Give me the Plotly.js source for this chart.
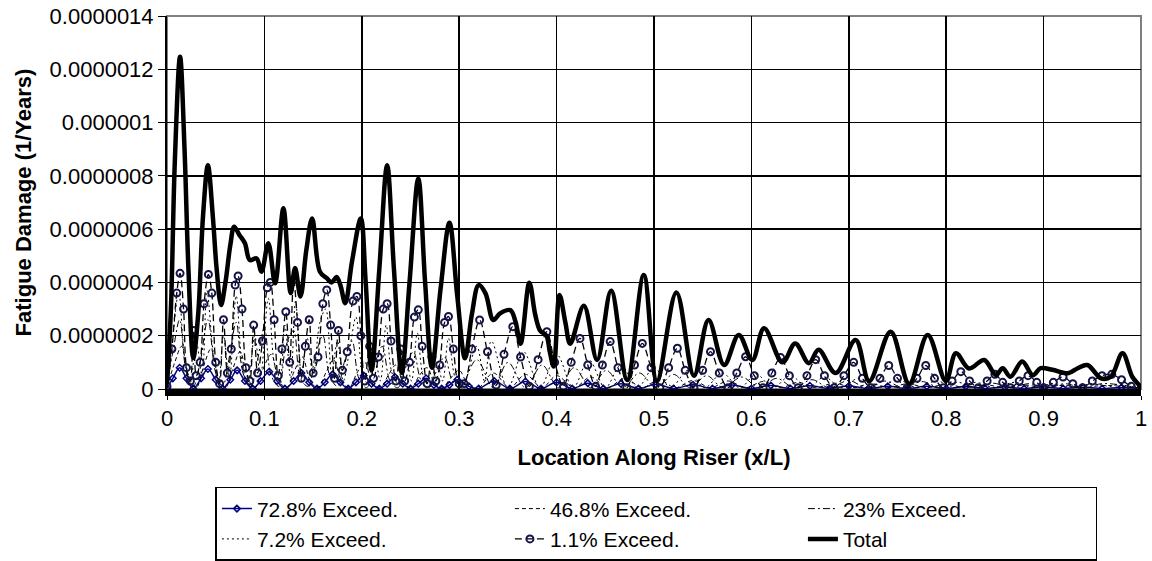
<!DOCTYPE html>
<html>
<head>
<meta charset="utf-8">
<script src="https://cdn.plot.ly/plotly-3.0.1.min.js"></script>
<style>html,body{margin:0;padding:0;background:#fff;}#chart{width:1152px;height:561px;}</style>
</head>
<body>
<div id="chart"></div>
<script>
// Values in units of 1e-7 (1/Years); pairs are [x/L, damage]
const UNIT = 1e-7;

const yTickVals = [0, 2, 4, 6, 8, 10, 12, 14];
const yTickText = ['0', '0.0000002', '0.0000004', '0.0000006', '0.0000008', '0.000001', '0.0000012', '0.0000014'];

const exc728 = [[0,0.02],[0.006,0.4],[0.013,0.8],[0.02,0.4],[0.027,0.02],[0.035,0.4],[0.042,0.75],[0.05,0.35],[0.057,0.02],[0.065,0.35],[0.072,0.7],[0.08,0.3],[0.088,0.02],[0.096,0.3],[0.105,0.65],[0.113,0.3],[0.121,0.02],[0.13,0.3],[0.138,0.6],[0.146,0.25],[0.154,0.02],[0.162,0.25],[0.17,0.55],[0.178,0.25],[0.186,0.02],[0.194,0.25],[0.202,0.5],[0.21,0.2],[0.218,0.02],[0.226,0.2],[0.234,0.45],[0.242,0.2],[0.25,0.02],[0.258,0.2],[0.266,0.4],[0.274,0.15],[0.282,0.02],[0.29,0.15],[0.298,0.35],[0.31,0.1],[0.32,0.02],[0.336,0.3],[0.352,0.02],[0.368,0.28],[0.384,0.02],[0.4,0.25],[0.416,0.02],[0.432,0.22],[0.448,0.02],[0.466,0.2],[0.484,0.02],[0.502,0.18],[0.52,0.02],[0.54,0.16],[0.56,0.02],[0.58,0.15],[0.6,0.02],[0.62,0.13],[0.64,0.02],[0.66,0.12],[0.68,0.02],[0.7,0.11],[0.72,0.02],[0.74,0.1],[0.76,0.02],[0.78,0.1],[0.8,0.02],[0.82,0.09],[0.84,0.02],[0.86,0.08],[0.88,0.02],[0.9,0.08],[0.92,0.02],[0.94,0.07],[0.96,0.02],[0.98,0.06],[1.0,0.01]];

const exc468 = [[0,0.05],[0.008,1.0],[0.015,1.6],[0.022,0.5],[0.03,0.05],[0.038,0.9],[0.045,1.5],[0.053,0.4],[0.06,0.05],[0.068,0.8],[0.075,1.4],[0.083,0.4],[0.09,0.05],[0.098,0.7],[0.107,1.3],[0.115,0.3],[0.123,0.05],[0.131,0.7],[0.139,1.2],[0.147,0.3],[0.155,0.05],[0.163,0.6],[0.171,1.1],[0.179,0.3],[0.187,0.05],[0.195,0.6],[0.203,1.0],[0.211,0.2],[0.219,0.05],[0.227,0.5],[0.235,0.9],[0.243,0.2],[0.251,0.05],[0.259,0.5],[0.267,0.8],[0.275,0.2],[0.283,0.05],[0.291,0.4],[0.3,0.7],[0.31,0.1],[0.32,0.05],[0.335,0.6],[0.352,0.05],[0.368,0.55],[0.385,0.05],[0.4,0.5],[0.418,0.05],[0.435,0.45],[0.452,0.05],[0.47,0.4],[0.488,0.05],[0.505,0.35],[0.522,0.05],[0.54,0.32],[0.558,0.05],[0.576,0.3],[0.594,0.05],[0.612,0.28],[0.63,0.05],[0.648,0.25],[0.666,0.05],[0.685,0.22],[0.704,0.05],[0.723,0.2],[0.742,0.05],[0.76,0.2],[0.78,0.05],[0.8,0.18],[0.82,0.05],[0.84,0.16],[0.86,0.05],[0.88,0.15],[0.9,0.05],[0.92,0.14],[0.94,0.05],[0.96,0.13],[0.98,0.1],[1.0,0.02]];

const exc23 = [[0,0.1],[0.007,1.6],[0.013,2.6],[0.02,0.6],[0.027,0.1],[0.034,1.0],[0.042,2.6],[0.05,0.6],[0.057,0.1],[0.064,1.2],[0.071,2.5],[0.078,0.6],[0.086,0.1],[0.093,1.1],[0.1,2.3],[0.107,0.5],[0.115,0.1],[0.122,1.6],[0.13,2.2],[0.137,0.4],[0.145,0.1],[0.152,1.2],[0.16,2.0],[0.167,0.5],[0.175,0.1],[0.182,1.0],[0.19,1.8],[0.197,0.4],[0.205,0.05],[0.213,0.9],[0.221,1.6],[0.229,0.3],[0.237,0.05],[0.245,0.8],[0.253,1.4],[0.261,0.3],[0.269,0.05],[0.277,0.7],[0.285,1.2],[0.293,0.3],[0.301,0.05],[0.318,1.1],[0.335,0.05],[0.35,1.0],[0.368,0.05],[0.385,0.9],[0.402,0.05],[0.418,0.8],[0.435,0.05],[0.451,0.7],[0.468,0.05],[0.485,0.6],[0.502,0.05],[0.52,0.55],[0.537,0.05],[0.554,0.5],[0.571,0.05],[0.59,0.45],[0.608,0.05],[0.626,0.4],[0.644,0.05],[0.662,0.35],[0.68,0.05],[0.7,0.32],[0.718,0.05],[0.737,0.3],[0.756,0.05],[0.775,0.28],[0.794,0.05],[0.812,0.25],[0.83,0.05],[0.848,0.22],[0.866,0.05],[0.885,0.2],[0.904,0.05],[0.922,0.2],[0.94,0.05],[0.96,0.2],[0.98,0.15],[1.0,0.02]];

const exc72 = [[0,0.1],[0.006,2.0],[0.012,3.6],[0.018,1.2],[0.024,0.2],[0.03,1.8],[0.036,0.5],[0.041,3.7],[0.047,1.5],[0.053,0.2],[0.058,2.0],[0.064,0.4],[0.071,3.5],[0.077,1.0],[0.083,0.2],[0.09,2.0],[0.096,0.5],[0.104,3.4],[0.11,1.0],[0.116,0.3],[0.121,2.4],[0.127,0.4],[0.132,3.3],[0.138,0.6],[0.144,1.9],[0.15,0.5],[0.157,2.5],[0.163,3.0],[0.169,0.6],[0.175,1.8],[0.181,0.3],[0.188,1.6],[0.194,2.7],[0.2,0.8],[0.206,0.2],[0.213,1.3],[0.219,0.3],[0.225,2.4],[0.231,0.6],[0.238,0.2],[0.245,1.2],[0.251,0.3],[0.257,2.1],[0.263,0.5],[0.27,0.1],[0.277,1.0],[0.283,0.3],[0.289,1.9],[0.296,0.4],[0.303,0.05],[0.318,1.6],[0.326,0.3],[0.333,1.8],[0.35,0.05],[0.366,1.4],[0.383,0.05],[0.4,1.3],[0.417,0.05],[0.433,1.1],[0.45,0.05],[0.466,0.9],[0.483,0.05],[0.5,0.8],[0.517,0.05],[0.535,0.7],[0.552,0.05],[0.57,0.6],[0.588,0.05],[0.605,0.55],[0.622,0.05],[0.64,0.5],[0.658,0.05],[0.675,0.45],[0.692,0.05],[0.71,0.4],[0.73,0.05],[0.75,0.35],[0.77,0.05],[0.79,0.3],[0.81,0.05],[0.83,0.25],[0.85,0.05],[0.87,0.25],[0.89,0.05],[0.91,0.2],[0.93,0.05],[0.95,0.2],[0.97,0.1],[0.98,0.25],[1.0,0.02]];

const exc11 = [[0,0.1],[0.005,1.5],[0.01,3.6],[0.0134,4.34],[0.017,3.0],[0.02,0.8],[0.024,0.3],[0.027,2.2],[0.03,0.5],[0.034,1.0],[0.038,3.2],[0.0425,4.3],[0.046,3.6],[0.05,1.0],[0.054,0.2],[0.058,2.6],[0.062,0.6],[0.066,1.5],[0.07,3.9],[0.073,4.24],[0.077,3.0],[0.081,0.8],[0.085,0.3],[0.089,2.4],[0.093,0.6],[0.098,1.8],[0.103,3.8],[0.106,4.0],[0.11,2.6],[0.114,0.5],[0.118,1.5],[0.122,2.9],[0.126,1.0],[0.13,4.1],[0.134,2.5],[0.138,0.4],[0.142,1.6],[0.146,2.6],[0.15,0.6],[0.155,1.2],[0.16,3.2],[0.164,3.72],[0.168,2.4],[0.172,0.4],[0.176,2.2],[0.18,0.7],[0.185,1.4],[0.191,3.3],[0.195,3.47],[0.199,2.0],[0.203,0.3],[0.208,1.6],[0.212,0.4],[0.217,1.2],[0.222,3.0],[0.226,3.2],[0.23,1.8],[0.235,0.3],[0.24,1.5],[0.244,0.3],[0.249,1.0],[0.254,2.7],[0.258,2.97],[0.262,1.6],[0.267,0.2],[0.272,1.2],[0.276,0.3],[0.28,0.9],[0.285,2.5],[0.289,2.72],[0.294,1.5],[0.3,0.2],[0.305,0.2],[0.313,1.5],[0.321,2.59],[0.329,1.4],[0.338,0.15],[0.346,1.3],[0.355,2.34],[0.363,1.2],[0.372,0.1],[0.381,1.1],[0.39,2.15],[0.398,1.0],[0.407,0.1],[0.415,1.0],[0.424,1.9],[0.432,0.9],[0.44,0.1],[0.447,0.9],[0.455,1.78],[0.463,0.8],[0.472,0.05],[0.48,0.9],[0.488,1.71],[0.497,0.8],[0.506,0.05],[0.515,0.8],[0.524,1.53],[0.532,0.7],[0.541,0.05],[0.55,0.7],[0.558,1.4],[0.567,0.6],[0.576,0.05],[0.585,0.6],[0.594,1.21],[0.603,0.5],[0.612,0.05],[0.621,0.6],[0.63,1.18],[0.639,0.5],[0.648,0.05],[0.657,0.5],[0.666,1.1],[0.675,0.5],[0.685,0.05],[0.695,0.5],[0.705,1.0],[0.714,0.4],[0.723,0.05],[0.732,0.4],[0.741,0.88],[0.75,0.4],[0.76,0.05],[0.77,0.4],[0.779,0.88],[0.788,0.4],[0.797,0.05],[0.806,0.3],[0.815,0.65],[0.824,0.3],[0.833,0.05],[0.842,0.3],[0.85,0.55],[0.858,0.25],[0.866,0.05],[0.875,0.3],[0.884,0.5],[0.893,0.25],[0.9,0.05],[0.91,0.25],[0.92,0.45],[0.93,0.2],[0.94,0.05],[0.95,0.3],[0.96,0.5],[0.97,0.55],[0.98,0.35],[0.99,0.1],[1.0,0.02]];

const total = [[0,0.2],[0.004,3.0],[0.008,8.5],[0.0134,12.47],[0.018,9.0],[0.022,4.5],[0.027,1.16],[0.032,2.8],[0.037,6.5],[0.042,8.4],[0.047,6.5],[0.051,4.5],[0.0555,3.15],[0.06,4.0],[0.065,5.4],[0.069,6.09],[0.074,5.8],[0.08,5.47],[0.085,4.84],[0.092,4.9],[0.097,4.4],[0.104,5.47],[0.111,3.97],[0.1195,6.78],[0.127,3.6],[0.1315,4.54],[0.137,3.47],[0.143,5.2],[0.149,6.4],[0.157,4.4],[0.164,4.16],[0.169,4.0],[0.174,4.2],[0.178,3.9],[0.183,3.22],[0.19,4.8],[0.199,6.4],[0.204,4.0],[0.21,0.7],[0.218,4.5],[0.226,8.4],[0.233,4.5],[0.241,0.6],[0.249,4.0],[0.258,7.9],[0.265,4.0],[0.272,0.8],[0.281,3.8],[0.29,6.24],[0.298,3.5],[0.306,1.15],[0.313,2.8],[0.32,3.9],[0.327,3.59],[0.335,2.59],[0.342,2.84],[0.3525,2.96],[0.358,2.5],[0.363,1.7],[0.372,3.99],[0.378,2.8],[0.383,2.2],[0.3895,2.0],[0.393,1.4],[0.397,0.84],[0.403,3.53],[0.409,2.5],[0.414,1.7],[0.428,3.12],[0.4416,1.09],[0.456,3.69],[0.4725,0.34],[0.4895,4.28],[0.503,0.3],[0.523,3.62],[0.541,0.5],[0.556,2.59],[0.572,0.9],[0.587,2.03],[0.601,1.09],[0.613,2.28],[0.632,1.0],[0.645,1.71],[0.659,0.97],[0.669,1.47],[0.6865,0.6],[0.707,1.84],[0.721,0.3],[0.743,2.15],[0.762,0.2],[0.781,2.03],[0.7996,0.3],[0.81,1.34],[0.8235,0.77],[0.839,1.09],[0.851,0.53],[0.858,0.78],[0.866,0.46],[0.878,1.03],[0.889,0.52],[0.897,0.78],[0.909,0.72],[0.925,0.59],[0.935,0.78],[0.945,0.9],[0.959,0.4],[0.969,0.46],[0.981,1.34],[0.991,0.46],[0.998,0.15],[1.0,0.05]];

const xs = d => d.map(p => p[0]);
const ys = d => d.map(p => p[1] * UNIT);

const traces = [
  {name: '72.8% Exceed.', x: xs(exc728), y: ys(exc728), mode: 'lines+markers',
   line: {color: '#000080', width: 1.5, shape: 'spline'},
   marker: {symbol: 'diamond-open', size: 5, color: '#000080', line: {width: 1.5, color: '#000080'}}},
  {name: '46.8% Exceed.', x: xs(exc468), y: ys(exc468), mode: 'lines',
   line: {color: '#000', width: 1, dash: '4px,3px', shape: 'spline'}},
  {name: '23% Exceed.', x: xs(exc23), y: ys(exc23), mode: 'lines',
   line: {color: '#000', width: 1, dash: '7px,3px,2px,3px', shape: 'spline'}},
  {name: '7.2% Exceed.', x: xs(exc72), y: ys(exc72), mode: 'lines',
   line: {color: '#000', width: 1, dash: '2px,3px', shape: 'spline'}},
  {name: '1.1% Exceed.', x: xs(exc11), y: ys(exc11), mode: 'lines+markers',
   line: {color: '#000', width: 1.3, dash: '7px,4px', shape: 'spline'},
   marker: {symbol: 'circle-open', size: 7, color: '#14144a', line: {width: 2, color: '#14144a'}}},
  {name: 'Total', x: xs(total), y: ys(total), mode: 'lines',
   line: {color: '#000', width: 4.5, shape: 'spline'}}
];

const font = 'Liberation Sans, Arial, sans-serif';
const layout = {
  width: 1152, height: 561,
  margin: {l: 167, r: 11, t: 16, b: 172, autoexpand: false},
  paper_bgcolor: '#fff', plot_bgcolor: '#fff',
  font: {family: font, color: '#000', size: 22},
  showlegend: true,
  shapes: [{type: 'rect', xref: 'paper', yref: 'paper', x0: 0, x1: 1, y0: 0, y1: 1,
            line: {color: '#808080', width: 2}, layer: 'below'}],
  xaxis: {
    range: [0, 1], dtick: 0.1, tick0: 0, automargin: false,
    showgrid: true, gridcolor: '#000', gridwidth: 1.5,
    zeroline: false, showline: true, linecolor: '#000', linewidth: 7,
    ticks: 'outside', ticklen: 4, tickcolor: '#000',
    tickfont: {size: 22, family: font},
    title: {text: '<b>Location Along Riser (x/L)</b>', font: {size: 22, family: font}, standoff: 22}
  },
  yaxis: {
    range: [0, 14 * UNIT], automargin: false,
    tickvals: yTickVals.map(v => v * UNIT), ticktext: yTickText,
    showgrid: true, gridcolor: '#000', gridwidth: 1.5,
    zeroline: false, showline: true, linecolor: '#000', linewidth: 2,
    ticks: 'outside', ticklen: 7, tickcolor: '#000',
    tickfont: {size: 22, family: font},
    title: {text: '<b>Fatigue Damage (1/Years)</b>', font: {size: 22, family: font}, standoff: 12}
  },
  legend: {
    orientation: 'h', xref: 'container', yref: 'container',
    x: 0.187, xanchor: 'left', y: 0.132, yanchor: 'top',
    bordercolor: '#000', borderwidth: 1.5, bgcolor: '#fff',
    font: {size: 21, family: font}, entrywidth: 248, entrywidthmode: 'pixels',
    traceorder: 'normal'
  }
};

Plotly.newPlot('chart', traces, layout, {displayModeBar: false, staticPlot: true});
</script>
</body>
</html>
